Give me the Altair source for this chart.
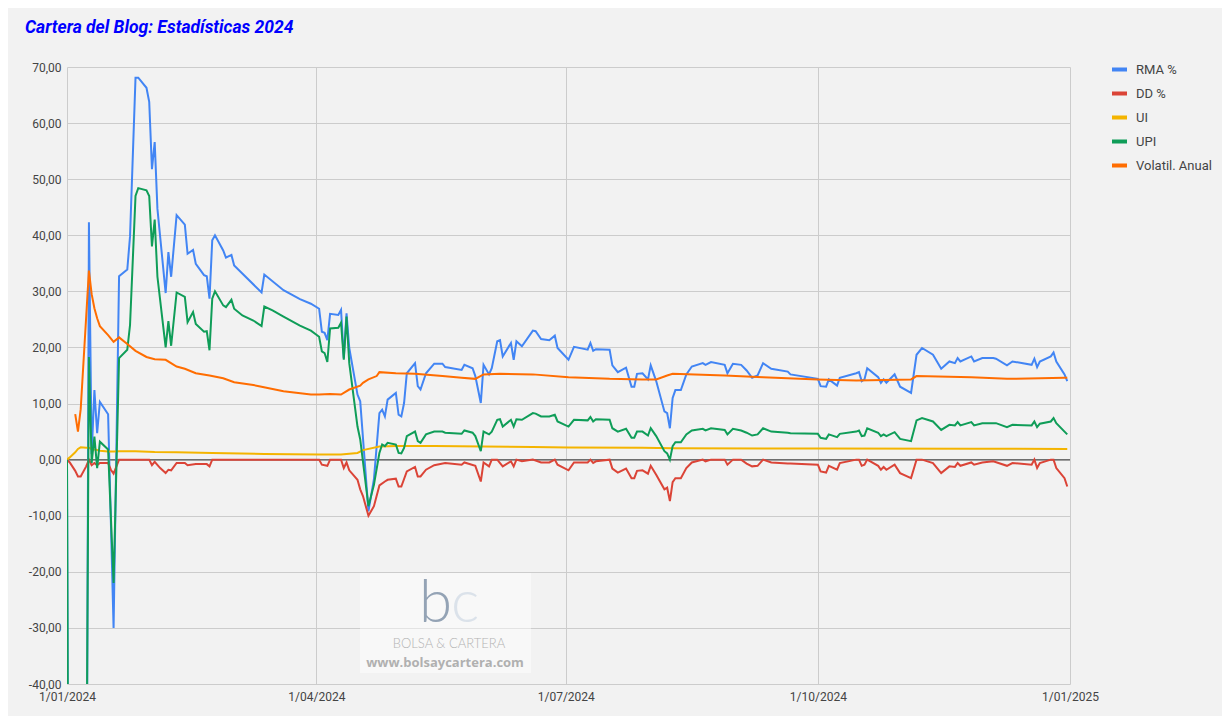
import altair as alt
import pandas as pd

# ---------------- data ----------------
DATES = [
    # enero
    "2024-01-01", "2024-01-02", "2024-01-04", "2024-01-05", "2024-01-06", "2024-01-08", "2024-01-09",
    "2024-01-10", "2024-01-11", "2024-01-12", "2024-01-13", "2024-01-16", "2024-01-17", "2024-01-18",
    "2024-01-20", "2024-01-23", "2024-01-24", "2024-01-26", "2024-01-27", "2024-01-30", "2024-01-31",
    # febrero
    "2024-02-01", "2024-02-02", "2024-02-03", "2024-02-04", "2024-02-06", "2024-02-07", "2024-02-08",
    "2024-02-10", "2024-02-13", "2024-02-14", "2024-02-16", "2024-02-17", "2024-02-20", "2024-02-21",
    "2024-02-22", "2024-02-23", "2024-02-24", "2024-02-27", "2024-02-28",
    # marzo
    "2024-03-01", "2024-03-02", "2024-03-05", "2024-03-09", "2024-03-12", "2024-03-13", "2024-03-16",
    "2024-03-20", "2024-03-26", "2024-03-30",
    # abril
    "2024-04-02", "2024-04-03", "2024-04-04", "2024-04-05", "2024-04-06", "2024-04-09", "2024-04-10",
    "2024-04-11", "2024-04-12", "2024-04-13", "2024-04-16", "2024-04-17", "2024-04-18", "2024-04-20",
    "2024-04-22", "2024-04-23", "2024-04-24", "2024-04-25", "2024-04-26", "2024-04-27", "2024-04-30",
    # mayo
    "2024-05-01", "2024-05-02", "2024-05-03", "2024-05-04", "2024-05-07", "2024-05-08", "2024-05-09",
    "2024-05-11", "2024-05-14", "2024-05-17", "2024-05-18", "2024-05-24", "2024-05-25", "2024-05-28",
    "2024-05-29", "2024-05-31",
    # junio
    "2024-06-01", "2024-06-03", "2024-06-04", "2024-06-06", "2024-06-07", "2024-06-08", "2024-06-11",
    "2024-06-12", "2024-06-13", "2024-06-15", "2024-06-19", "2024-06-20", "2024-06-22", "2024-06-25",
    "2024-06-27", "2024-06-28",
    # julio
    "2024-07-02", "2024-07-04", "2024-07-09", "2024-07-10", "2024-07-11", "2024-07-12", "2024-07-17",
    "2024-07-18", "2024-07-20", "2024-07-23", "2024-07-25", "2024-07-26", "2024-07-27", "2024-07-29",
    "2024-07-31",
    # agosto
    "2024-08-01", "2024-08-03", "2024-08-06", "2024-08-07", "2024-08-08", "2024-08-09", "2024-08-10",
    "2024-08-12", "2024-08-14", "2024-08-16", "2024-08-20", "2024-08-21", "2024-08-23", "2024-08-28",
    "2024-08-29", "2024-08-31",
    # septiembre
    "2024-09-03", "2024-09-05", "2024-09-07", "2024-09-09", "2024-09-11", "2024-09-14", "2024-09-20",
    "2024-09-21",
    # octubre
    "2024-10-01", "2024-10-02", "2024-10-04", "2024-10-05", "2024-10-08", "2024-10-09", "2024-10-15",
    "2024-10-16", "2024-10-17", "2024-10-18", "2024-10-19", "2024-10-23", "2024-10-24", "2024-10-25",
    "2024-10-26", "2024-10-29", "2024-10-31",
    # noviembre
    "2024-11-04", "2024-11-06", "2024-11-08", "2024-11-12", "2024-11-15", "2024-11-18", "2024-11-20",
    "2024-11-21", "2024-11-22", "2024-11-26", "2024-11-27", "2024-11-30",
    # diciembre
    "2024-12-04", "2024-12-05", "2024-12-09", "2024-12-11", "2024-12-18", "2024-12-19", "2024-12-20",
    "2024-12-21", "2024-12-25", "2024-12-26", "2024-12-27", "2024-12-30", "2024-12-31",
]

RMA = [
    0, -150, -150, -150, -150, -90, 42.3, 1.0, 12.4, 4.7, 10.3, 8.1, None, -30, 32.7, 33.9, 39.8, 68.1, 68.1, 66.3, 63.8,
    51.8, 56.6, 44.7, None, 29.7, 37.0, 32.6, 43.6, 41.9, 36.7, 37.4, 34.9, 32.9, 32.7, 28.7, 39.1, 40.0, 37.3, 36.0,
    36.5, 34.6, None, None, 29.8, 33.0, None, 30.2, 28.6, 27.8,
    26.9, 22.8, 22.6, 21.3, 26.0, 25.8, 26.7, 18.1, 26.1, 19.9, 11.6, 10.4, None, -9.2, -3.5, None, 8.3, 8.9, 7.7, 10.7, 11.9,
    8.0, 7.7, 10.1, 15.4, 17.2, 13.1, 12.5, 15.4, 17.1, 17.1, 16.5, 16.0, 16.9, 16.3, 14.9, 10.1,
    16.9, 15.2, 16.3, 21.1, 21.3, 18.4, 20.8, 17.8, 21.1, 20.2, 23.0, 22.9, 21.5, 21.3, 22.1, 19.9,
    17.8, 20.1, 19.6, 20.8, 19.4, 19.7, 19.6, 16.8, 15.6, 16.4, 13.0, 13.0, 15.3, 15.4, 14.3,
    16.8, 14.0, 8.6, 8.3, 5.6, 11.0, 12.4, 12.4, 15.2, 16.6, 17.2, 16.9, 17.4, 16.9, 15.4, 17.1,
    16.9, 15.9, 14.6, 15.0, 17.2, 16.2, 15.7, 15.2,
    14.4, 13.1, 13.0, 14.3, 13.2, 14.6, 15.4, 15.6, 14.0, 14.3, 16.3, 14.7, 13.7, 14.3, 13.7, 15.2, 13.0,
    11.9, 18.7, 19.9, 18.7, 16.2, 17.5, 17.2, 18.1, 17.5, 18.4, 17.5, 18.1,
    18.1, 18.0, 16.8, 17.5, 16.9, 18.0, 16.5, 17.5, 18.4, 19.1, 17.5, 15.2, 14.0,
]

DD = [
    0, -0.5, -2.0, -3.0, -3.0, -1.2, 0, -1.0, -0.6, -1.0, -0.6, -0.6, -1.8, -2.5, 0, 0, 0, 0, 0, 0, 0,
    -1.0, -0.4, None, -1.5, -2.4, -1.8, -1.9, -0.6, -0.6, -1.0, None, -0.8, None, -0.8, -1.2, 0, None, None, None,
    0, None, None, None, None, 0, None, None, None, 0,
    0, -0.9, None, -1.1, 0, 0, 0, -1.5, -0.5, -1.9, -3.6, -5.3, -6.5, -10.0, -8.3, None, -4.6, None, -3.9, -3.6, -3.4,
    -4.8, -4.8, None, -2.1, -1.3, -3.0, -3.0, -1.8, -1.0, None, -0.6, -0.9, -0.5, None, -1.1, -3.9,
    -0.5, -1.2, 0, 0, None, -1.2, -0.3, -1.2, 0, -0.3, 0, None, -0.5, -0.5, 0, -0.9,
    -1.9, -0.5, -0.5, 0, -0.6, -0.3, 0, -1.6, -2.3, -1.6, -3.3, -3.3, -2.0, -1.9, -2.5,
    -1.1, -2.7, -5.3, -5.0, -7.4, -4.0, -3.3, -3.3, -1.5, -0.5, 0, -0.3, 0, 0, -0.9, 0,
    0, -0.7, -1.2, -1.1, 0, -0.5, -0.7, -0.7,
    -0.9, -2.1, -2.3, -1.1, -1.8, -0.6, 0, 0, -1.1, -0.9, 0, -1.1, -1.8, -1.3, -1.8, -0.9, -2.4,
    -3.3, 0, 0, -0.6, -2.4, -1.2, -1.3, -0.6, -1.1, -0.5, -0.9, -0.5,
    -0.3, None, -1.1, -0.6, -0.9, 0, -1.5, -0.6, 0, 0, -1.5, -3.3, -4.8,
]

UI = [
    0, 0.4, 1.3, 1.9, 2.2, 2.1, 2.1, 1.9, 1.8, 1.7, 1.6, 1.45, None, 1.45, 1.5, 1.5, None, 1.5, None, None, None,
    None, 1.35, None, None, None, None, None, 1.3, None, None, None, None, None, None, None, 1.2, None, None, None,
    None, None, None, None, None, 1.0, None, None, None, None,
    0.9, None, None, None, None, None, 0.9, None, None, None, 1.2, None, 1.7, None, None, None, 2.35, None, None, None, 2.45,
    None, None, None, None, None, None, None, None, 2.45, None, None, None, None, None, None, None,
    2.35, None, None, None, None, None, None, None, None, None, 2.25, None, None, None, None, None,
    2.15, None, None, None, None, None, None, None, None, None, None, None, None, 2.1, None,
    None, None, None, None, None, 2.05, None, None, None, None, None, None, None, None, None, None,
    None, None, None, None, 2.0, None, None, None,
    2.0, None, None, None, None, None, None, None, None, None, None, None, None, None, None, None, None,
    None, None, None, None, None, None, None, None, None, 1.95, None, None,
    None, None, None, None, None, None, None, None, None, None, None, None, 1.9,
]

UPI = [
    0, -150, -150, -150, -150, -70, 18.3, -0.6, 4.1, -1.5, 3.2, 1.8, None, -22, 18.1, 19.6, 24.0, 47.0, 48.4, 48.0, 47.0,
    38.0, 42.8, 32.6, None, 20.0, 24.7, 20.3, 29.8, 29.0, 24.5, 26.3, 24.2, 22.8, 22.9, 19.5, 28.7, 30.0, 27.5, 27.2,
    28.5, 26.9, 25.7, 24.8, 23.8, 27.3, 26.6, 25.5, 23.9, 23.0,
    21.9, 19.3, 19.0, 17.4, 23.4, 23.5, 24.4, 17.8, 25.5, 17.2, 5.9, 3.6, None, -8.3, -4.5, None, 1.2, 2.7, 2.4, 3.0, 2.7,
    1.2, 1.1, 2.1, 4.2, 5.0, 3.3, 3.0, 4.5, 5.0, 5.0, 4.8, 4.6, 5.2, 4.8, 4.2, 1.5,
    5.0, 4.5, 5.0, 7.1, 7.2, 5.9, 7.1, 5.9, 7.2, 7.1, 8.3, 8.2, 7.7, 7.7, 8.0, 6.8,
    5.9, 7.1, 7.0, 7.6, 6.8, 7.2, 7.1, 5.6, 5.0, 5.5, 3.9, 3.9, 5.0, 5.0, 4.3,
    5.6, 4.2, 1.5, 1.1, 0.0, 2.4, 3.1, 3.1, 4.5, 5.2, 5.5, 5.2, 5.6, 5.3, 4.5, 5.5,
    5.2, 4.8, 4.3, 4.5, 5.6, 5.0, 4.8, 4.7,
    4.6, 3.9, 3.7, 4.5, 4.0, 4.6, 5.0, 5.2, 4.2, 4.3, 5.6, 4.8, 4.2, 4.5, 4.2, 4.9, 3.7,
    3.3, 7.0, 7.4, 6.8, 5.3, 6.2, 6.1, 6.7, 6.1, 6.7, 6.1, 6.5,
    6.5, 6.5, 5.8, 6.2, 6.1, 6.8, 5.8, 6.4, 6.8, 7.4, 6.5, 5.0, 4.5,
]

VOL = [
    None, None, 8.1, 5.0, 9.0, None, 33.7, 29.5, 27.0, 25.2, 23.8, 22.2, None, 21.0, 21.8, 20.6, None, 19.4, None, 18.3, None,
    None, 17.9, None, None, 17.8, None, None, 16.6, 16.2, None, None, 15.4, None, None, 15.0, None, None, 14.5, None,
    None, 13.8, None, 13.3, 13.0, None, None, 12.2, None, 11.6,
    11.6, None, None, None, 11.7, None, 11.6, None, None, 12.5, None, 13.2, 13.7, 14.3, None, 14.9, 15.6, None, None, None, 15.4,
    None, None, None, None, 15.3, None, None, None, None, 14.9, None, 14.6, None, None, 14.4, None,
    15.2, None, None, None, 15.3, None, None, None, None, None, 15.2, None, None, None, None, None,
    14.7, None, None, None, None, None, 14.4, None, None, None, None, None, None, 14.3, None,
    None, 14.3, None, 15.0, None, 15.3, None, None, None, None, None, None, None, 15.0, None, None,
    None, None, None, None, 14.7, None, None, None,
    14.3, None, None, None, None, None, 14.1, None, None, None, None, None, None, None, None, None, None,
    14.3, 14.9, None, None, None, None, None, None, None, 14.7, None, None,
    None, None, 14.4, None, None, None, None, None, None, None, None, 14.6, 14.6,
]

SERIES = ["RMA %", "DD %", "UI", "UPI", "Volatil. Anual"]
COLORS = ["#4285F4", "#DB4437", "#F4B400", "#0F9D58", "#FF6D01"]
Y_TICKS = [-40, -30, -20, -10, 0, 10, 20, 30, 40, 50, 60, 70]
X_TICKS = [(2024, 1), (2024, 4), (2024, 7), (2024, 10), (2025, 1)]
TITLE = "Cartera del Blog: Estadísticas 2024"

# ---------------- build table ----------------
frames = []
for name, vals in zip(SERIES, [RMA, DD, UI, UPI, VOL]):
    assert len(vals) == len(DATES), (name, len(vals), len(DATES))
    frames.append(pd.DataFrame({"fecha": DATES, "valor": vals, "serie": name}))
df = pd.concat(frames, ignore_index=True).dropna(subset=["valor"])

W, H = 1003, 617

x_dates = [alt.DateTime(year=y, month=m, date=1, utc=True) for y, m in X_TICKS]
x_scale = alt.Scale(type="utc", domain=[x_dates[0], x_dates[-1]])
y_scale = alt.Scale(domain=[-40, 70], nice=False, zero=False)

x_axis = alt.Axis(
    values=x_dates, grid=True, labelPadding=7, labelFontSize=12, labelFlush=False,
    labelExpr="utcFormat(datum.value, '%-d/%m/%Y')",
)
y_axis = alt.Axis(
    values=Y_TICKS, grid=True, labelPadding=6, labelFontSize=12,
    labelExpr="(datum.value < 0 ? '-' : '') + replace(format(abs(datum.value), '.2f'), '.', ',')",
)

color_scale = alt.Scale(domain=SERIES, range=COLORS)
legend = alt.Legend(
    title=None, orient="none", legendX=1043, legendY=-7,
    symbolType="stroke", symbolStrokeWidth=4, symbolSize=225,
    labelFontSize=13, labelColor="#444444", labelFont="Roboto",
    rowPadding=6, labelOffset=7, padding=0,
)

layers = []
for i, name in enumerate(SERIES):
    layers.append(
        alt.Chart(df)
        .transform_filter(alt.datum.serie == name)
        .mark_line(strokeWidth=2, clip=True)
        .encode(
            x=alt.X("fecha:T", scale=x_scale, axis=x_axis, title=None),
            y=alt.Y("valor:Q", scale=y_scale, axis=y_axis, title=None),
            color=alt.Color("serie:N", scale=color_scale, sort=SERIES, legend=legend),
        )
    )

zero_rule = (
    alt.Chart(pd.DataFrame({"valor": [0]}))
    .mark_rule(color="#6e6e6e", strokeWidth=1.5)
    .encode(y=alt.Y("valor:Q", scale=y_scale, axis=y_axis, title=None))
)

# watermark of the original picture (decorative)
wm_box = alt.Chart(pd.DataFrame({"k": [0]})).mark_rect(color="#ffffff", opacity=0.45).encode(
    x=alt.value(293), x2=alt.value(464), y=alt.value(506), y2=alt.value(606)
)
wm_b = alt.Chart(pd.DataFrame({"t": ["b"]})).mark_text(
    font="Lato", fontWeight=300, fontSize=60, color="#94a3b5", align="left", baseline="alphabetic"
).encode(text="t:N", x=alt.value(352), y=alt.value(555))
wm_c = alt.Chart(pd.DataFrame({"t": ["c"]})).mark_text(
    font="Lato", fontWeight=300, fontSize=60, color="#dbe2ea", align="left", baseline="alphabetic"
).encode(text="t:N", x=alt.value(384), y=alt.value(555))
wm_t1 = alt.Chart(pd.DataFrame({"t": ["BOLSA & CARTERA"]})).mark_text(
    font="Lato", fontWeight=300, fontSize=13, color="#b3b3b3", align="center", baseline="alphabetic"
).encode(text="t:N", x=alt.value(382), y=alt.value(581))
wm_t2 = alt.Chart(pd.DataFrame({"t": ["www.bolsaycartera.com"]})).mark_text(
    font="Open Sans", fontWeight="bold", fontSize=13, color="#b0b0b0", align="center", baseline="alphabetic"
).encode(text="t:N", x=alt.value(378), y=alt.value(600))

chart = (
    alt.layer(zero_rule, *layers, wm_box, wm_b, wm_c, wm_t1, wm_t2)
    .properties(
        width=W,
        height=H,
        title=alt.TitleParams(
            TITLE, anchor="start", frame="group", dx=-42, offset=24,
            font="Roboto", fontSize=17.5, fontWeight="bold", fontStyle="italic", color="#0000ff",
        ),
        autosize=alt.AutoSizeParams(type="none"),
        padding={"left": 59, "top": 59, "right": 152, "bottom": 32},
        background="#f2f2f2",
    )
    .configure_view(stroke=None)
    .configure_axis(
        gridColor="#cccccc", gridWidth=1, domain=False, ticks=False,
        labelFont="Roboto", labelColor="#444444",
    )
)

chart.save("out.html", embed_options={"renderer": "svg", "actions": False})
